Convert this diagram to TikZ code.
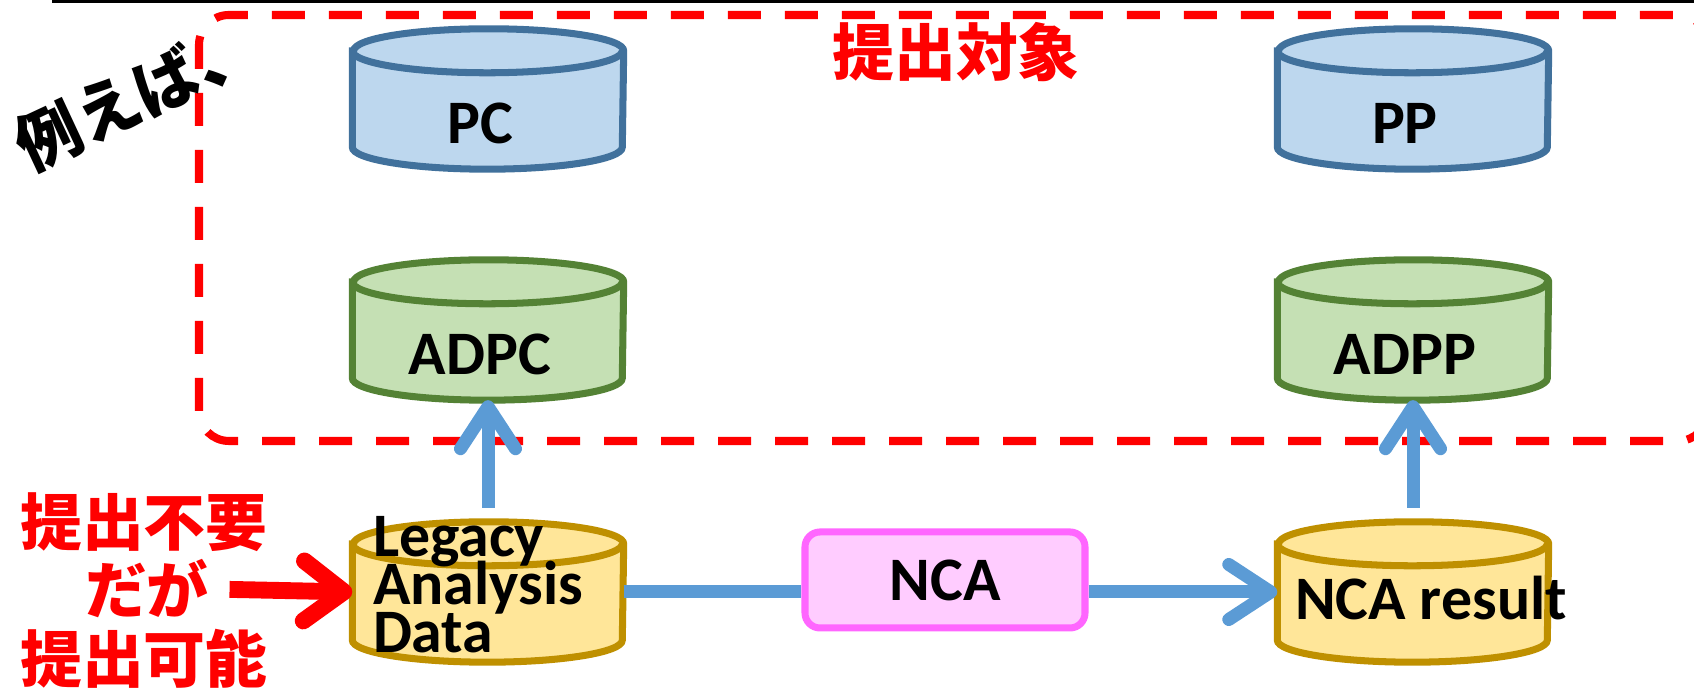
\documentclass[tikz,border=0pt]{standalone}
\usepackage{fontspec}
\setmainfont{Carlito}
\newfontfamily\jpfont{Noto Sans CJK JP}
\usepackage{xcolor}
\usetikzlibrary{arrows.meta, positioning}
\definecolor{pcblue}{HTML}{BDD7EE}
\definecolor{pcline}{HTML}{41719C}
\definecolor{adgreen}{HTML}{C5E0B4}
\definecolor{adline}{HTML}{548235}
\definecolor{lgyellow}{HTML}{FFE699}
\definecolor{lgline}{HTML}{BF9000}
\definecolor{ncapink}{HTML}{FFCCFF}
\definecolor{ncaline}{HTML}{FF66FF}
\definecolor{flowblue}{HTML}{5B9BD5}
\lineskiplimit=-\maxdimen

% cilindro sobre um no invisivel: nome, preenchimento, contorno
\newcommand{\dbdraw}[3]{%
	\draw [line width=2pt, draw=#3, fill=#2] ([yshift=-0.22cm]#1.north west) -- ([yshift=0.22cm]#1.south west)
		arc [start angle=180, end angle=360, x radius=1.35cm, y radius=0.22cm]
		-- ([yshift=-0.22cm]#1.north east)
		arc [start angle=0, end angle=180, x radius=1.35cm, y radius=0.22cm] -- cycle;
	\draw [line width=2pt, draw=#3] ([yshift=-0.22cm]#1.north west)
		arc [start angle=180, end angle=360, x radius=1.35cm, y radius=0.22cm];
}

\tikzset{
	db/.style={minimum width=2.70cm, minimum height=1.39cm, inner sep=0pt},
	dbtext/.style={font=\bfseries\fontsize{17.6}{13.7}\selectfont, inner sep=0pt},
	flow/.style={draw=flowblue, line width=3.7pt, -{Straight Barb[round, length=0.42cm, width=0.55cm]}},
	flowline/.style={draw=flowblue, line width=3.7pt},
	note/.style={font=\jpfont\bfseries\fontsize{17.6}{21}\selectfont, text=red, inner sep=0pt},
}

\begin{document}
\begin{tikzpicture}
	\useasboundingbox (0,0) rectangle (16.94,6.94);
	\clip (0,0) rectangle (16.94,6.94);
	% linha no topo
	\draw [line width=0.9pt] (0.52,6.93) -- (16.94,6.93);
	% area de submissao
	\draw [red, line width=2.3pt, dash pattern=on 0.33cm off 0.24cm, rounded corners=0.3cm]
		(1.99,2.53) rectangle (17.08,6.79);
	\node [note] (target) at (9.56,6.42) {提出対象};
	\node [font=\jpfont\bfseries\fontsize{18.5}{21}\selectfont, rotate=25, inner sep=0pt] (eg) at (1.37,5.99) {例えば、};
	
	% bancos de dados
	\node [db] (pc) at (4.88,5.95) {};
	\node [db] (pp) at (14.13,5.95) {};
	\node [db] (adpc) at (4.88,3.64) {};
	\node [db] (adpp) at (14.13,3.64) {};
	\node [db] (legacy) at (4.88,1.02) {};
	\node [db] (ncares) at (14.13,1.02) {};
	\dbdraw{pc}{pcblue}{pcline}
	\dbdraw{pp}{pcblue}{pcline}
	\dbdraw{adpc}{adgreen}{adline}
	\dbdraw{adpp}{adgreen}{adline}
	\dbdraw{legacy}{lgyellow}{lgline}
	\dbdraw{ncares}{lgyellow}{lgline}
	
	% textos
	\node [dbtext] (pctxt) at ([xshift=-0.08cm, yshift=-0.24cm]pc.center) {PC};
	\node [dbtext] (pptxt) at ([xshift=-0.08cm, yshift=-0.24cm]pp.center) {PP};
	\node [dbtext] (adpctxt) at ([xshift=-0.08cm, yshift=-0.24cm]adpc.center) {ADPC};
	\node [dbtext] (adpptxt) at ([xshift=-0.08cm, yshift=-0.24cm]adpp.center) {ADPP};
	\node [dbtext, align=left, anchor=west] (legtxt) at ([xshift=0.2cm, yshift=0.07cm]legacy.west) {Legacy\\Analysis\\Data};
	\node [dbtext, anchor=west] (restxt) at ([xshift=0.17cm, yshift=-0.06cm]ncares.west) {NCA result};
	
	% NCA
	\node [dbtext, draw=ncaline, fill=ncapink, line width=2pt, rounded corners=0.15cm,
		minimum width=2.80cm, minimum height=0.96cm] (nca) at (9.45,1.14) {NCA};
	
	% fluxo
	\draw [flowline] (legacy.east) -- (legacy.east -| nca.west);
	\draw [flow] (nca.east |- ncares.west) -- (ncares.west);
	\draw [flow, shorten <=0.14cm] (legacy.north) -- (adpc.south);
	\draw [flow, shorten <=0.14cm] (ncares.north) -- (adpp.south);
	
	% nota
	\node [note] (need) at (1.44,1.72) {提出不要};
	\node [note] (but) at (1.47,1.05) {だが};
	\node [note] (can) at (1.44,0.35) {提出可能};
	\draw [red, line width=4.8pt, -{Straight Barb[round, length=0.4cm, width=0.6cm]}, shorten <=0.2cm]
		(but.east) -- (legacy.west);
\end{tikzpicture}
\end{document}
